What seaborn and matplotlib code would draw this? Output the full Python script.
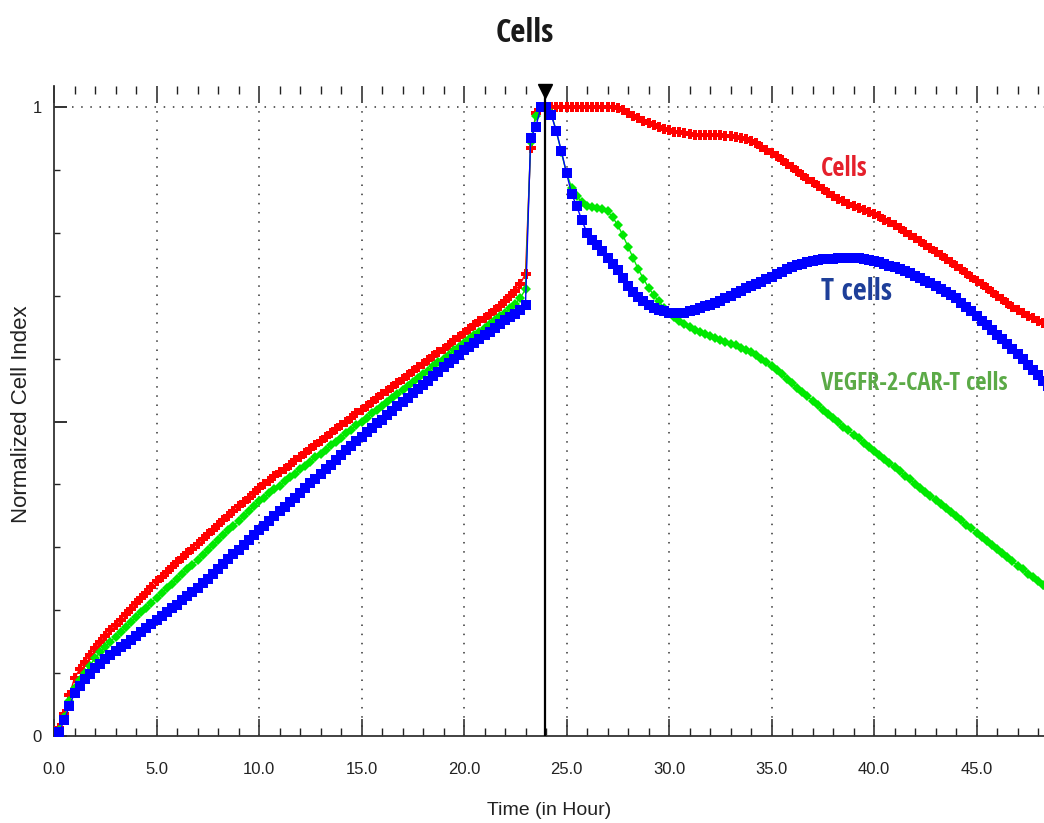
import numpy as np
import matplotlib
matplotlib.use("Agg")
import matplotlib.pyplot as plt
import seaborn as sns
from matplotlib import font_manager
from matplotlib.font_manager import FontProperties
from matplotlib.textpath import TextPath

# ============================================================================
# DONNÉES (lues sur le graphique, pas de 0.25 h)
# ============================================================================
time_pre = np.arange(0.0, 23.001, 0.25)      # 0 -> 23 h
time_jump = [23.25, 23.5, 23.75]             # saut à l'ajout des effecteurs
time_post = np.arange(24.0, 48.501, 0.25)    # 24 -> 48.5 h

cells_pre = [0.000, 0.012, 0.035, 0.065, 0.092, 0.106, 0.118, 0.129, 0.140, 0.150,
             0.159, 0.168, 0.177, 0.185, 0.194, 0.202, 0.211, 0.220, 0.228, 0.237, 0.246,
             0.253, 0.261, 0.268, 0.276, 0.283, 0.291, 0.298, 0.306,
             0.313, 0.321, 0.328, 0.335, 0.343, 0.350, 0.357, 0.365, 0.372, 0.379, 0.387, 0.394,
             0.400, 0.406, 0.413, 0.419, 0.425, 0.431, 0.438, 0.444, 0.450, 0.456,
             0.463, 0.469, 0.475, 0.481, 0.488, 0.494, 0.500, 0.506, 0.513, 0.519,
             0.525, 0.531, 0.537, 0.543, 0.549, 0.555, 0.562, 0.568, 0.574, 0.580,
             0.586, 0.592, 0.598, 0.604, 0.610, 0.616, 0.622, 0.629, 0.635, 0.641,
             0.647, 0.653, 0.659, 0.665, 0.671, 0.677, 0.684, 0.691, 0.699, 0.708, 0.719, 0.735]
green_pre = [0.000, 0.010, 0.030, 0.055, 0.076, 0.089, 0.100, 0.112, 0.124, 0.133,
             0.142, 0.150, 0.158, 0.166, 0.174, 0.181, 0.189, 0.197, 0.204, 0.212, 0.220,
             0.227, 0.235, 0.242, 0.250, 0.257, 0.265, 0.272, 0.280,
             0.288, 0.296, 0.303, 0.311, 0.319, 0.327, 0.334, 0.342, 0.350, 0.358, 0.365, 0.373,
             0.379, 0.386, 0.392, 0.398, 0.405, 0.411, 0.417, 0.424, 0.430, 0.436,
             0.443, 0.449, 0.455, 0.462, 0.468, 0.474, 0.481, 0.487, 0.494, 0.500,
             0.506, 0.513, 0.519, 0.525, 0.531, 0.538, 0.544, 0.550, 0.556, 0.563,
             0.569, 0.575, 0.581, 0.588, 0.594, 0.600, 0.606, 0.613, 0.619, 0.625,
             0.631, 0.637, 0.643, 0.649, 0.655, 0.661, 0.667, 0.673, 0.680, 0.687, 0.697, 0.710]
tcells_pre = [0.000, 0.006, 0.025, 0.048, 0.068, 0.080, 0.090, 0.099, 0.108, 0.115,
              0.122, 0.129, 0.135, 0.141, 0.147, 0.153, 0.159, 0.165, 0.171, 0.178, 0.184,
              0.190, 0.197, 0.203, 0.209, 0.216, 0.222, 0.229, 0.235,
              0.243, 0.250, 0.258, 0.266, 0.273, 0.281, 0.289, 0.296, 0.304, 0.312, 0.319, 0.327,
              0.334, 0.342, 0.349, 0.357, 0.364, 0.372, 0.379, 0.387, 0.394, 0.402,
              0.409, 0.416, 0.424, 0.431, 0.439, 0.446, 0.454, 0.461, 0.469, 0.476,
              0.483, 0.490, 0.497, 0.503, 0.510, 0.517, 0.524, 0.531, 0.538, 0.545,
              0.551, 0.558, 0.565, 0.572, 0.579, 0.586, 0.593, 0.599, 0.606, 0.613,
              0.619, 0.625, 0.631, 0.637, 0.643, 0.649, 0.655, 0.661, 0.666, 0.671, 0.677, 0.686]

cells_jump = [0.935, 0.990, 1.000]
green_jump = [0.945, 0.985, 1.000]
tcells_jump = [0.950, 0.968, 1.000]

cells_post = [1.000, 1.000, 1.000, 1.000, 1.000, 1.000, 1.000, 1.000, 1.000, 1.000,
              1.000, 1.000, 1.000, 1.000, 0.999, 0.995,
              0.990, 0.986, 0.982, 0.978, 0.975, 0.971, 0.968, 0.965, 0.963, 0.961,
              0.960, 0.958, 0.957, 0.956, 0.955, 0.955,
              0.955, 0.955, 0.955, 0.954, 0.954, 0.953, 0.951, 0.949, 0.946, 0.942,
              0.937, 0.932, 0.927, 0.922, 0.916, 0.910,
              0.904, 0.898, 0.892, 0.886, 0.880, 0.875, 0.869, 0.864, 0.859, 0.854,
              0.850, 0.846, 0.842, 0.839, 0.836, 0.833,
              0.830, 0.826, 0.821, 0.817, 0.812, 0.807, 0.802, 0.797, 0.792, 0.787,
              0.781, 0.776, 0.770, 0.765, 0.759, 0.754,
              0.748, 0.742, 0.736, 0.730, 0.724, 0.718, 0.712, 0.706, 0.700, 0.694,
              0.688, 0.682, 0.677, 0.672, 0.668, 0.664,
              0.660, 0.656, 0.652]
green_post = [1.000, 0.990, 0.962, 0.928, 0.895, 0.872, 0.858, 0.849, 0.843, 0.841,
              0.840, 0.838, 0.834, 0.825, 0.812, 0.796,
              0.778, 0.760, 0.742, 0.727, 0.713, 0.701, 0.691, 0.681, 0.673, 0.666,
              0.660, 0.655, 0.650, 0.646, 0.642, 0.639,
              0.636, 0.633, 0.630, 0.627, 0.624, 0.621, 0.617, 0.614, 0.610, 0.605,
              0.600, 0.594, 0.588, 0.582, 0.575, 0.568,
              0.561, 0.554, 0.547, 0.540, 0.533, 0.526, 0.519, 0.512, 0.505, 0.499,
              0.492, 0.486, 0.479, 0.473, 0.466, 0.460,
              0.453, 0.447, 0.440, 0.434, 0.427, 0.421, 0.414, 0.408, 0.401, 0.395,
              0.388, 0.382, 0.375, 0.369, 0.362, 0.356,
              0.349, 0.343, 0.336, 0.330, 0.323, 0.317, 0.310, 0.304, 0.297, 0.291,
              0.284, 0.278, 0.271, 0.265, 0.258, 0.252,
              0.246, 0.240, 0.233]
tcells_post = [1.000, 0.988, 0.962, 0.930, 0.895, 0.862, 0.842, 0.820, 0.800, 0.789,
               0.781, 0.771, 0.760, 0.750, 0.741, 0.728,
               0.715, 0.706, 0.698, 0.692, 0.686, 0.681, 0.677, 0.675, 0.673, 0.672,
               0.672, 0.673, 0.675, 0.677, 0.680, 0.683,
               0.686, 0.689, 0.692, 0.696, 0.700, 0.704, 0.708, 0.712, 0.715, 0.718,
               0.722, 0.726, 0.730, 0.734, 0.738, 0.742,
               0.746, 0.749, 0.751, 0.753, 0.755, 0.757, 0.758, 0.759, 0.759, 0.760,
               0.760, 0.760, 0.760, 0.760, 0.759, 0.757,
               0.755, 0.753, 0.750, 0.748, 0.745, 0.742, 0.739, 0.736, 0.732, 0.728,
               0.724, 0.720, 0.715, 0.711, 0.706, 0.701,
               0.696, 0.689, 0.682, 0.675, 0.667, 0.660, 0.653, 0.646, 0.638, 0.631,
               0.623, 0.615, 0.607, 0.599, 0.590, 0.582,
               0.574, 0.565, 0.556]

t_add = 23.95           # instant de normalisation (ligne noire)
x_ticks = [0, 5, 10, 15, 20, 25, 30, 35, 40, 45]
x_labels = ["0.0", "5.0", "10.0", "15.0", "20.0", "25.0", "30.0", "35.0", "40.0", "45.0"]

for arr in (cells_pre, green_pre, tcells_pre):
    assert len(arr) == len(time_pre), len(arr)
for arr in (cells_post, green_post, tcells_post):
    assert len(arr) == len(time_post), len(arr)

# ============================================================================
# POLICES : chercher une police étroite pour les titres
# ============================================================================
sns.set_style("white")
plt.rcParams['font.family'] = ['Liberation Sans', 'DejaVu Sans']

entries = font_manager.fontManager.ttflist
names = {f.name for f in entries}
candidates = []
for nm in ["Liberation Sans Narrow", "Roboto Condensed", "Open Sans Condensed", "Roboto", "Lato"]:
    if nm in names:
        candidates.append((nm, "normal"))
if any(f.name == "DejaVu Sans" and "ondensed" in f.fname for f in entries):
    candidates.append(("DejaVu Sans", "condensed"))
candidates.append(("Liberation Sans", "normal"))


def width_px(text, family, stretch, size):
    fp = FontProperties(family=family, stretch=stretch, weight="bold", size=size)
    return TextPath((0, 0), text, prop=fp).get_extents().width * 100 / 72


label_family, label_stretch = min(
    candidates, key=lambda c: width_px("VEGFR-2-CAR-T cells", c[0], c[1], 20))


def fit_size(text, target_px):
    return 20 * target_px / width_px(text, label_family, label_stretch, 20)


# ============================================================================
# FIGURE
# ============================================================================
time = np.concatenate([time_pre, time_jump, time_post])
series = {
    "Cells": (np.concatenate([cells_pre, cells_jump, cells_post]), "#ff0000", "P", 6.6),
    "VEGFR-2-CAR-T cells": (np.concatenate([green_pre, green_jump, green_post]), "#00e800", "D", 5.4),
    "T cells": (np.concatenate([tcells_pre, tcells_jump, tcells_post]), "#0000ff", "s", 7.8),
}

fig = plt.figure(figsize=(10.44, 8.23), dpi=100)
ax = fig.add_axes([54 / 1044, 1 - 736 / 823, 1 - 54 / 1044, (736 - 86) / 823])

x_max = (1044 - 54) / 20.5
y_max = (736 - 86) / 629

# grille pointillée
ax.vlines(x_ticks[1:], 0, 1, colors="#333333", linestyles=(0, (1, 5)), linewidth=1.1, zorder=1)
ax.hlines(1, 0.9, x_max, colors="#333333", linestyles=(0, (1, 5)), linewidth=1.1, zorder=1)

for name, (vals, col, mk, ms) in series.items():
    sns.lineplot(x=time, y=vals, ax=ax, color=col, marker=mk, markersize=ms,
                 markeredgewidth=0, linewidth=1.0, estimator=None, sort=False, zorder=3)

# ligne de normalisation + triangle
ax.axvline(t_add, color="black", linewidth=1.6, zorder=4)
ax.plot([t_add], [y_max - 0.008], marker="v", color="black", markersize=10,
        clip_on=False, zorder=5)

ax.set_xlim(0, x_max)
ax.set_ylim(0, y_max)

ax.set_xticks(x_ticks)
ax.set_xticklabels(x_labels)
ax.set_xticks(np.arange(0, 49, 1), minor=True)
ax.set_yticks([0, 0.5, 1])
ax.set_yticklabels(["0", "", "1"])
ax.set_yticks(np.arange(0, 1.01, 0.1), minor=True)

ax.tick_params(axis="x", which="both", direction="in", top=True, bottom=True,
               color="#222222", labelsize=12, labelcolor="#222222", pad=19)
ax.tick_params(axis="x", which="major", length=12, width=1.1)
ax.tick_params(axis="x", which="minor", length=6, width=1.0)
ax.tick_params(axis="y", which="both", direction="in", left=True, color="#222222",
               labelsize=12, labelcolor="#222222", pad=9)
ax.tick_params(axis="y", which="major", length=9, width=1.3)
ax.tick_params(axis="y", which="minor", length=4.5, width=1.0)

for side in ["top", "right"]:
    ax.spines[side].set_visible(False)
for side in ["left", "bottom"]:
    ax.spines[side].set_color("#333333")
    ax.spines[side].set_linewidth(1.3)

ax.set_xlabel("Time (in Hour)", fontsize=14, color="#222222", labelpad=18)
ax.set_ylabel("Normalized Cell Index", fontsize=16, color="#222222")
ax.yaxis.set_label_coords(-0.022, 0.495)

# étiquettes des courbes (police étroite grasse, largeur calée sur l'original)
lab = dict(family=label_family, stretch=label_stretch, fontweight="bold", va="center")
ax.text(37.4, 0.903, "Cells", color="#e5202b", fontsize=fit_size("Cells", 45), **lab)
ax.text(37.4, 0.706, "T cells", color="#1e3f99", fontsize=fit_size("T cells", 70), **lab)
ax.text(37.4, 0.561, "VEGFR-2-CAR-T cells", color="#5baa47",
        fontsize=fit_size("VEGFR-2-CAR-T cells", 186), **lab)

fig.text(0.503, 1 - 33 / 823, "Cells", ha="center", va="center",
         fontsize=fit_size("Cells", 56), color="#1a1a1a",
         family=label_family, stretch=label_stretch, fontweight="bold")

fig.savefig("out.png", dpi=100)
plt.close(fig)
